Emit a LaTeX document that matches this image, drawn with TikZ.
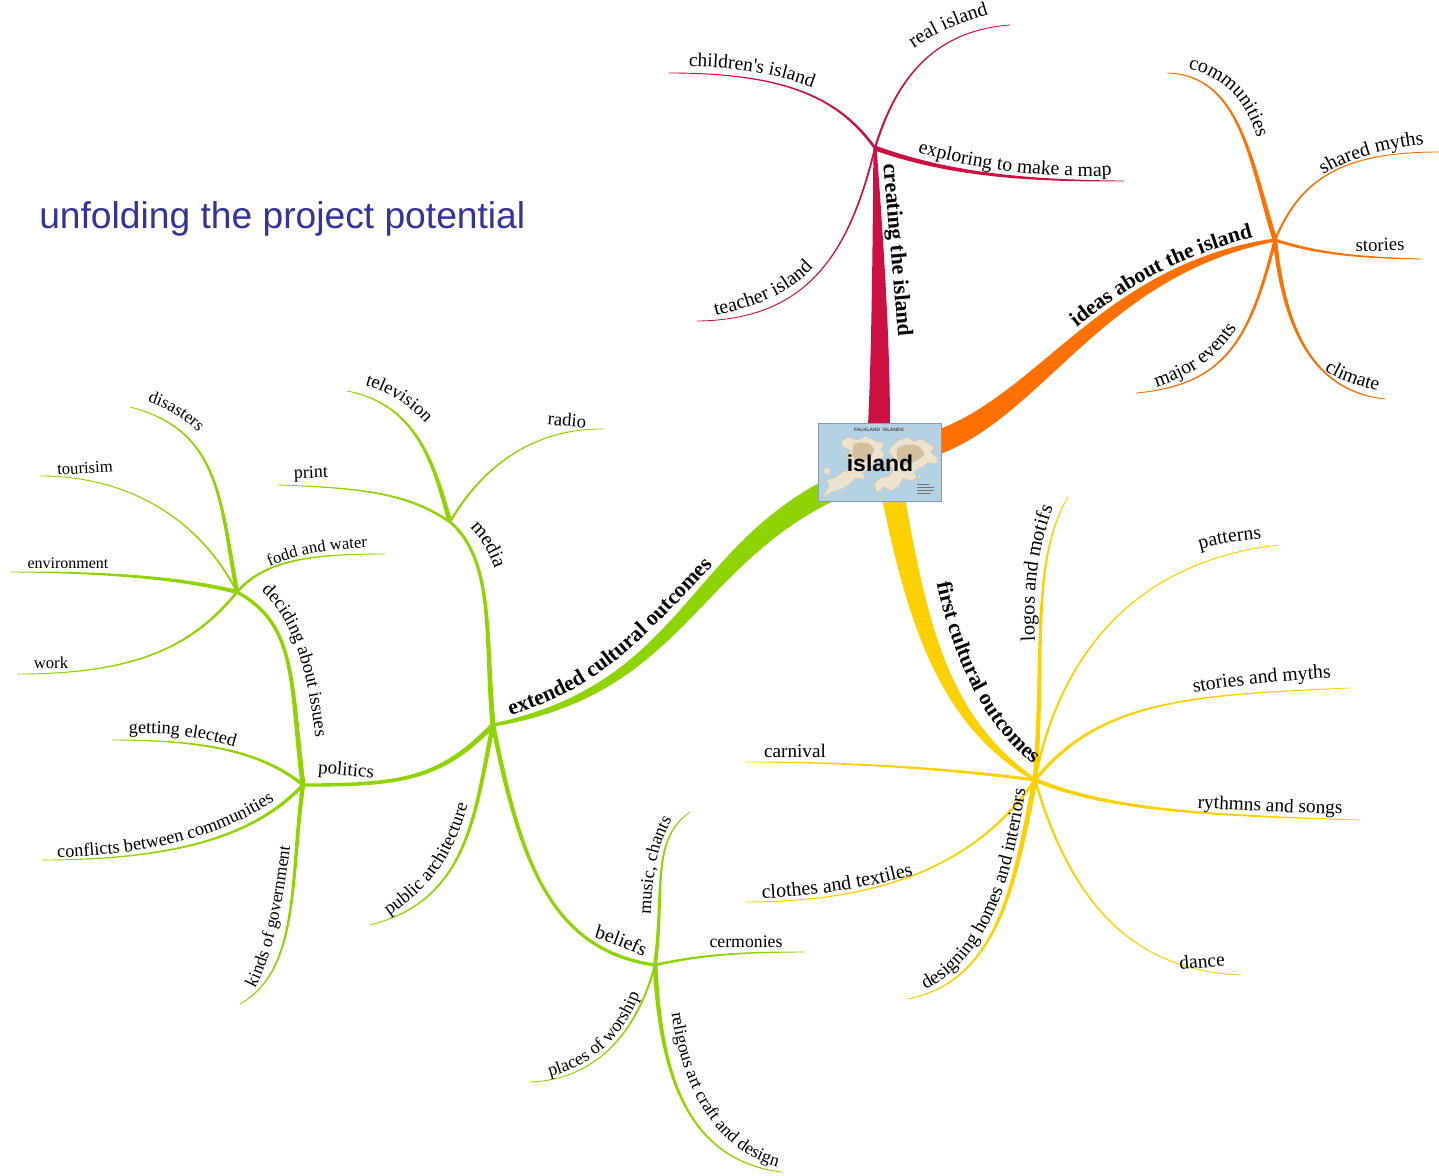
\documentclass[tikz,border=0pt]{standalone}
\usepackage{fontspec}
\setmainfont{Liberation Serif}[Ligatures=TeXOff]
\newfontfamily\headfont{Liberation Sans}
\usetikzlibrary{calc,decorations.text}
\definecolor{redb}{HTML}{CC1040}
\definecolor{orangeb}{HTML}{FF7000}
\definecolor{greenb}{HTML}{8FD400}
\definecolor{yellowb}{HTML}{FFD000}
\definecolor{titleblue}{HTML}{333399}
\definecolor{seablue}{HTML}{B4D2E4}
\definecolor{landtan}{HTML}{EBE3D0}
\definecolor{landdark}{HTML}{D2C09E}
\newcommand\branchline[7]{%
  \pgfmathsetmacro\wca{.8*#6+.2*#7}%
  \pgfmathsetmacro\wcb{.4*#6+.6*#7}%
  \fill[#1] ($(#2)!#6pt!90:#3$) .. controls ($#3!\wca pt!-90:(#2)$) and ($#4!\wcb pt!90:(#5)$) .. ($(#5)!#7pt!-90:#4$)
    -- ($(#5)!#7pt!90:#4$) .. controls ($#4!\wcb pt!-90:(#5)$) and ($#3!\wca pt!90:(#2)$) .. ($(#2)!#6pt!-90:#3$) -- cycle;}
\newcommand\curvelabel[3]{\path[decorate,decoration={text along path,text align=center,text={|\fontsize{#1}{#1}\selectfont|#3}}] #2;}
\newcommand\curvebold[3]{\path[decorate,decoration={text along path,text align=center,text={|\fontsize{#1}{#1}\selectfont\bfseries|#3}}] #2;}
\tikzset{lab/.style={inner sep=0pt,text=black}}
\begin{document}
\begin{tikzpicture}[x=0.75pt,y=-0.75pt]
\useasboundingbox (0,0) rectangle (1439,1175);
% hubs and free ends
\coordinate (cR) at (879,425); \coordinate (cO) at (930,445); \coordinate (cG) at (830,490); \coordinate (cY) at (893,495);
\coordinate (hubR) at (875,148); \coordinate (hubO) at (1275,240); \coordinate (hubG) at (493,725); \coordinate (hubY) at (1035,780);
\coordinate (hubM) at (450,522); \coordinate (hubP) at (303,785); \coordinate (hubD) at (237,592); \coordinate (hubB) at (655,965);
\coordinate (eReal) at (1010,25); \coordinate (eChild) at (669,73); \coordinate (eExpl) at (1124,181); \coordinate (eTeach) at (697,321);
\coordinate (eComm) at (1167,73); \coordinate (eMyth) at (1439,152); \coordinate (eStor) at (1422,259); \coordinate (eMajor) at (1136,393); \coordinate (eClim) at (1385,399);
\coordinate (eTv) at (347,391); \coordinate (eRadio) at (604,429); \coordinate (ePrint) at (278,485);
\coordinate (eElect) at (112,740); \coordinate (eConf) at (42,860); \coordinate (eKinds) at (240,1004);
\coordinate (eDis) at (130,407); \coordinate (eTour) at (40,476); \coordinate (eEnv) at (11,572); \coordinate (eFood) at (385,554); \coordinate (eWork) at (17,674);
\coordinate (ePub) at (370,925); \coordinate (eMusic) at (690,812); \coordinate (eCerm) at (805,952); \coordinate (ePlace) at (530,1082); \coordinate (eRelig) at (782,1172);
\coordinate (eLogo) at (1068,497); \coordinate (ePatt) at (1279,545); \coordinate (eSM) at (1349,688); \coordinate (eRyth) at (1360,820); \coordinate (eDance) at (1240,975);
\coordinate (eHome) at (908,999); \coordinate (eCloth) at (745,902); \coordinate (eCarn) at (745,762);
% main branches
\branchline{redb}{cR}{(881,340)}{(878,240)}{hubR}{8.2}{1.2}
\branchline{orangeb}{cO}{(1040,410)}{(1100,270)}{hubO}{9}{1.2}
\branchline{greenb}{cG}{(690,560)}{(680,690)}{hubG}{8.5}{1.2}
\branchline{yellowb}{cY}{(920,640)}{(950,725)}{hubY}{8.5}{1.2}
% red
\branchline{redb}{hubR}{(900,65)}{(945,30)}{eReal}{.8}{.3}
\branchline{redb}{hubR}{(840,100)}{(790,73)}{eChild}{1}{.3}
\branchline{redb}{hubR}{(950,175)}{(1030,181)}{eExpl}{1.8}{.3}
\branchline{redb}{hubR}{(850,250)}{(810,320)}{eTeach}{.7}{.3}
% orange
\branchline{orangeb}{hubO}{(1250,160)}{(1240,75)}{eComm}{1.8}{.3}
\branchline{orangeb}{hubO}{(1300,180)}{(1340,152)}{eMyth}{.8}{.3}
\branchline{orangeb}{hubO}{(1320,255)}{(1370,258)}{eStor}{1.1}{.3}
\branchline{orangeb}{hubO}{(1250,340)}{(1225,385)}{eMajor}{1.2}{.3}
\branchline{orangeb}{hubO}{(1285,340)}{(1320,392)}{eClim}{1.6}{.3}
% green
\branchline{greenb}{hubG}{(485,640)}{(495,560)}{hubM}{1.9}{1}
\branchline{greenb}{hubG}{(440,780)}{(400,785)}{hubP}{1.9}{1.2}
\branchline{greenb}{hubG}{(520,860)}{(550,950)}{hubB}{1.7}{1.2}
\branchline{greenb}{hubG}{(475,810)}{(470,900)}{ePub}{1.7}{.3}
\branchline{greenb}{hubM}{(435,470)}{(420,405)}{eTv}{1.8}{.3}
\branchline{greenb}{hubM}{(480,470)}{(530,428)}{eRadio}{.8}{.3}
\branchline{greenb}{hubM}{(410,495)}{(370,488)}{ePrint}{1}{.3}
\branchline{greenb}{hubP}{(260,750)}{(200,740)}{eElect}{1.2}{.3}
\branchline{greenb}{hubP}{(260,830)}{(190,860)}{eConf}{1.3}{.3}
\branchline{greenb}{hubP}{(290,880)}{(300,970)}{eKinds}{1.6}{.3}
\branchline{greenb}{hubP}{(290,680)}{(297,625)}{hubD}{1.9}{1.2}
\branchline{greenb}{hubD}{(220,500)}{(220,430)}{eDis}{1.6}{.3}
\branchline{greenb}{hubD}{(200,520)}{(130,476)}{eTour}{.7}{.3}
\branchline{greenb}{hubD}{(170,575)}{(80,572)}{eEnv}{1.5}{.3}
\branchline{greenb}{hubD}{(265,560)}{(310,554)}{eFood}{1}{.3}
\branchline{greenb}{hubD}{(190,650)}{(130,674)}{eWork}{1}{.3}
\branchline{greenb}{hubB}{(665,890)}{(650,840)}{eMusic}{1.4}{.3}
\branchline{greenb}{hubB}{(700,955)}{(740,952)}{eCerm}{1}{.3}
\branchline{greenb}{hubB}{(635,1040)}{(590,1080)}{ePlace}{.8}{.3}
\branchline{greenb}{hubB}{(660,1060)}{(680,1160)}{eRelig}{1.8}{.3}
% yellow
\branchline{yellowb}{hubY}{(1045,660)}{(1030,560)}{eLogo}{1.8}{.3}
\branchline{yellowb}{hubY}{(1060,650)}{(1140,560)}{ePatt}{.9}{.3}
\branchline{yellowb}{hubY}{(1100,700)}{(1190,695)}{eSM}{1.2}{.3}
\branchline{yellowb}{hubY}{(1110,810)}{(1200,815)}{eRyth}{1.5}{.3}
\branchline{yellowb}{hubY}{(1070,900)}{(1130,970)}{eDance}{.9}{.3}
\branchline{yellowb}{hubY}{(1015,880)}{(1000,980)}{eHome}{2}{.3}
\branchline{yellowb}{hubY}{(980,860)}{(890,902)}{eCloth}{1}{.3}
\branchline{yellowb}{hubY}{(960,770)}{(860,762)}{eCarn}{1.2}{.3}
% centre map
\node[minimum width=92.25pt,minimum height=58.5pt,fill=seablue,draw=seablue!75!black,line width=.3pt,inner sep=0pt] (map) at (879.5,462) {};
\begin{scope}
\clip (map.south west) rectangle (map.north east);
\fill[landtan,draw=landdark,line width=.3pt,line join=round] plot coordinates {(841,441) (848,437) (858,440) (866,436) (876,441) (884,443) (881,450) (885,456) (876,461) (871,468) (863,472) (865,479) (856,478) (850,484) (842,489) (832,492) (822,498) (829,486) (826,480) (834,478) (842,472) (849,470) (852,461) (846,456) (851,451) (843,447)} -- cycle;
\fill[landtan,draw=landdark,line width=.3pt,line join=round] plot coordinates {(894,444) (899,440) (907,437) (914,441) (922,439) (929,444) (935,447) (931,452) (938,458) (936,464) (928,463) (921,468) (914,472) (917,478) (910,481) (903,478) (899,486) (892,491) (884,487) (877,493) (874,484) (880,478) (889,476) (893,470) (889,463) (893,457) (888,451)} -- cycle;
\fill[landdark] plot[smooth cycle] coordinates {(854,444) (868,443) (874,451) (862,463) (853,457)};
\fill[landdark] plot[smooth cycle] coordinates {(899,447) (916,445) (924,455) (906,465) (897,458)};
\fill[landtan,draw=landdark,line width=.2pt] (827,471) circle[radius=3.5];
\fill[landtan,draw=landdark,line width=.2pt] (919,477) circle[radius=1.5];
\draw[line width=.25pt,black!55] (917,487) -- (934,487) (917,490) -- (934,490) (917,493) -- (931,493) (917,484) -- (929,484);
\end{scope}
\node[inner sep=0pt,font=\headfont\bfseries\fontsize{3.6}{4}\selectfont,text=black!70] (maptitle) at (879,430) {FALKLAND\ \ ISLANDS};
\node[inner sep=0pt,font=\headfont\bfseries\fontsize{17.2}{18}\selectfont] (islandlabel) at (880,463) {island};
% title
\node[anchor=base west,inner sep=0pt,font=\headfont\fontsize{27.9}{30}\selectfont,text=titleblue] (title) at (39,228) {unfolding the project potential};
% bold branch labels
\node[lab,rotate=-85,font=\bfseries\fontsize{16.5}{17}\selectfont] (lCreate) at (896,250) {creating the island};
\curvebold{16.2}{(1055,345) .. controls (1115,296) and (1165,256) .. (1280,231)}{ideas about the island}
\curvebold{16.4}{(470,725) .. controls (600,700) and (640,640) .. (742,535)}{extended cultural outcomes}
\curvebold{16.2}{(933,565) .. controls (948,648) and (983,733) .. (1048,775)}{first cultural outcomes}
% red labels
\curvelabel{15}{(900,58) .. controls (930,34) and (965,20) .. (1005,10)}{real island}
\curvelabel{14.6}{(672,66) .. controls (730,66) and (780,72) .. (828,94)}{children's island}
\curvelabel{14.8}{(905,148) .. controls (960,167) and (1040,180) .. (1125,175)}{exploring to make a map}
\curvelabel{15}{(698,320) .. controls (750,307) and (790,300) .. (825,254)}{teacher island}
% orange labels
\curvelabel{15}{(1167,65) .. controls (1230,71) and (1253,109) .. (1262,159)}{communities}
\curvelabel{15}{(1308,186) .. controls (1343,158) and (1383,148) .. (1443,142)}{shared myths}
\node[lab,rotate=2,font=\fontsize{14}{15}\selectfont] (lStories) at (1380,245) {stories};
\curvelabel{14.8}{(1142,392) .. controls (1190,377) and (1218,362) .. (1245,315)}{major events}
\curvelabel{14.7}{(1316,364) .. controls (1336,380) and (1358,387) .. (1388,393)}{climate}
% green labels
\curvelabel{15}{(456,518) .. controls (478,530) and (490,550) .. (500,585)}{media}
\curvelabel{14}{(347,381) .. controls (387,388) and (417,408) .. (437,438)}{television}
\node[lab,rotate=-5,font=\fontsize{14}{15}\selectfont] (lRadio) at (567,420) {radio};
\node[lab,rotate=2,font=\fontsize{13.5}{15}\selectfont] (lPrint) at (311,474) {print};
\node[lab,rotate=-5,font=\fontsize{14.2}{15}\selectfont] (lPol) at (346,771) {politics};
\curvelabel{14}{(247,580) .. controls (291,606) and (310,670) .. (317,755)}{deciding about issues}
\curvelabel{13}{(132,398) .. controls (162,404) and (192,420) .. (208,445)}{disasters}
\node[lab,rotate=3,font=\fontsize{12.5}{13}\selectfont] (lTour) at (85,468) {tourisim};
\node[lab,rotate=0,font=\fontsize{12}{13}\selectfont] (lEnv) at (68,563) {environment};
\curvelabel{12.5}{(260,571) .. controls (290,555) and (330,548) .. (378,547)}{fodd and water}
\node[lab,font=\fontsize{12.5}{13}\selectfont] (lWork) at (51,663) {work};
\curvelabel{13.7}{(118,734) .. controls (160,732) and (200,735) .. (245,750)}{getting elected}
\curvelabel{13.7}{(45,858) .. controls (130,855) and (210,846) .. (285,794)}{conflicts between communities}
\curvelabel{13.3}{(252,994) .. controls (272,960) and (282,910) .. (291,840)}{kinds of government}
\curvelabel{14}{(375,925) .. controls (430,890) and (455,860) .. (472,788)}{public architecture}
\curvelabel{14.8}{(587,936) .. controls (607,941) and (627,949) .. (650,960)}{beliefs}
\curvelabel{13.5}{(650,928) .. controls (652,880) and (655,840) .. (680,808)}{music, chants}
\node[lab,font=\fontsize{13.3}{15}\selectfont] (lCerm) at (746,942) {cermonies};
\curvelabel{13.5}{(535,1080) .. controls (590,1070) and (625,1040) .. (645,980)}{places of worship}
\curvelabel{13.3}{(670,1000) .. controls (678,1078) and (710,1155) .. (790,1170)}{religous art craft and design}
% yellow labels
\curvelabel{15.3}{(1036,660) .. controls (1032,600) and (1034,550) .. (1060,490)}{logos and motifs}
\curvelabel{14.8}{(1188,553) .. controls (1210,545) and (1240,540) .. (1274,538)}{patterns}
\curvelabel{14.8}{(1180,695) .. controls (1230,685) and (1290,680) .. (1345,677)}{stories and myths}
\curvelabel{14.5}{(1185,808) .. controls (1240,809) and (1300,814) .. (1355,814)}{rythmns and songs}
\node[lab,rotate=5,font=\fontsize{14.6}{15}\selectfont] (lDance) at (1202,961) {dance};
\curvelabel{14.5}{(915,995) .. controls (990,962) and (1013,880) .. (1027,778)}{designing homes and interiors}
\curvelabel{15}{(750,899) .. controls (810,897) and (870,888) .. (925,872)}{clothes and textiles}
\node[lab,font=\fontsize{14.4}{15}\selectfont] (lCarn) at (795,751) {carnival};
\end{tikzpicture}
\end{document}
